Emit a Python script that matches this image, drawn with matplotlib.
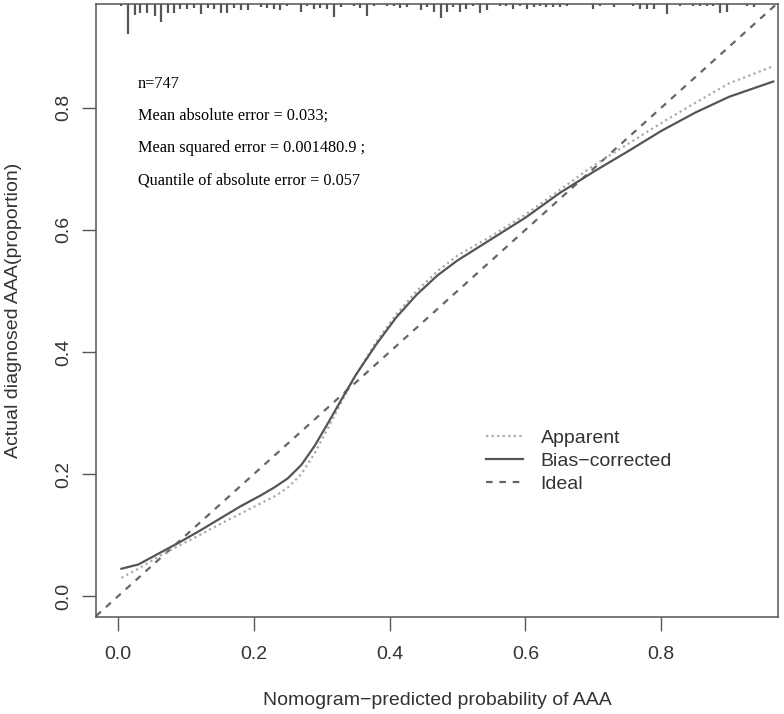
import matplotlib.pyplot as plt
import numpy as np

# Данные
pred_x = [0.005, 0.03, 0.06, 0.09, 0.12, 0.15, 0.18, 0.21, 0.23, 0.25, 0.27, 0.29, 0.31, 0.33, 0.35,
          0.38, 0.41, 0.44, 0.47, 0.50, 0.55, 0.60, 0.65, 0.70, 0.75, 0.80, 0.85, 0.90, 0.965]
bias_corrected = [0.045, 0.052, 0.070, 0.088, 0.107, 0.127, 0.147, 0.165, 0.178, 0.193, 0.215, 0.247, 0.285,
                  0.324, 0.362, 0.412, 0.457, 0.494, 0.525, 0.550, 0.585, 0.620, 0.660, 0.695, 0.728, 0.762,
                  0.792, 0.818, 0.843]
apparent = [0.030, 0.045, 0.065, 0.083, 0.100, 0.118, 0.135, 0.152, 0.163, 0.178, 0.200, 0.235, 0.277,
            0.320, 0.362, 0.416, 0.462, 0.500, 0.532, 0.558, 0.590, 0.625, 0.665, 0.705, 0.740, 0.775,
            0.808, 0.840, 0.868]

# распределение предсказанных вероятностей (верхний "ковёр")
rug_x = [0.005, 0.015, 0.025, 0.033, 0.043, 0.054, 0.063, 0.073, 0.083, 0.092, 0.102, 0.112, 0.122, 0.132,
         0.141, 0.151, 0.161, 0.171, 0.181, 0.191, 0.210, 0.220, 0.230, 0.239, 0.249, 0.269, 0.279, 0.288,
         0.298, 0.308, 0.318, 0.328, 0.347, 0.357, 0.367, 0.377, 0.396, 0.406, 0.416, 0.426, 0.446, 0.455,
         0.465, 0.475, 0.485, 0.494, 0.504, 0.513, 0.523, 0.533, 0.543, 0.563, 0.572, 0.582, 0.592, 0.602,
         0.612, 0.622, 0.631, 0.641, 0.651, 0.661, 0.700, 0.710, 0.730, 0.759, 0.769, 0.779, 0.789, 0.808,
         0.828, 0.847, 0.857, 0.867, 0.877, 0.887, 0.897, 0.926, 0.936]
rug_freq = [2, 30, 11, 9, 9, 12, 18, 9, 9, 5, 5, 4, 10, 4,
            5, 9, 9, 4, 6, 6, 3, 4, 5, 6, 2, 8, 2, 5,
            4, 5, 13, 3, 2, 4, 12, 2, 2, 2, 4, 3, 6, 3,
            8, 14, 8, 3, 8, 5, 2, 9, 6, 2, 2, 5, 2, 5,
            3, 2, 3, 3, 3, 2, 5, 2, 3, 2, 5, 5, 5, 10,
            2, 2, 2, 2, 2, 9, 8, 2, 3]

stats_lines = ['n=747', 'Mean absolute error = 0.033;', 'Mean squared error = 0.001480.9 ;',
               'Quantile of absolute error = 0.057']
ticks = [0.0, 0.2, 0.4, 0.6, 0.8]

xlim = (-0.0325, 0.972)
ylim = (-0.034, 0.970)
sans = 'Liberation Sans'

fig = plt.figure(figsize=(7.84, 7.14), dpi=100)
ax = fig.add_axes([0.1224, 0.1359, 0.8699, 0.8585])
ax.set_xlim(xlim)
ax.set_ylim(ylim)

# Линии
ax.plot([xlim[0], xlim[1]], [xlim[0], xlim[1]], color='#666666', lw=1.6,
        linestyle=(0, (3, 3)), label='Ideal', zorder=1)
ax.plot(pred_x, apparent, color='#aaaaaa', lw=1.6, linestyle=(0, (1, 1.5)), label='Apparent', zorder=2)
ax.plot(pred_x, bias_corrected, color='#555555', lw=1.6, label='Bias-corrected', zorder=3)

# ковёр сверху
rug_len = np.array(rug_freq) / 610.0
ax.vlines(rug_x, ylim[1] - rug_len, ylim[1], color='#555555', lw=1.6)

# Текст
for i, s in enumerate(stats_lines):
    ax.text(0.0295, 0.833 - i * 0.053, s, fontsize=11.7, family='Liberation Serif', va='baseline')

h = {l.get_label(): l for l in ax.get_lines()}
leg = ax.legend([h['Apparent'], h['Bias-corrected'], h['Ideal']], ['Apparent', 'Bias−corrected', 'Ideal'],
                loc='upper left', bbox_to_anchor=(0.558, 0.322), frameon=False, borderpad=0,
                prop={'family': sans, 'size': 14}, handlelength=1.9,
                labelspacing=0.27, handletextpad=0.9)
for t in leg.get_texts():
    t.set_color('#333333')

# Оси
ax.set_xticks(ticks)
ax.set_yticks(ticks)
ax.set_xticklabels([f'{t:.1f}' for t in ticks], family=sans, fontsize=14, color='#333333')
ax.set_yticklabels([f'{t:.1f}' for t in ticks], family=sans, fontsize=14,
                   color='#333333', rotation=90, va='center')
ax.tick_params(axis='both', length=10, width=1, color='#555555')
ax.tick_params(axis='x', pad=11)
ax.tick_params(axis='y', pad=7)
for sp in ax.spines.values():
    sp.set_color('#555555')
    sp.set_linewidth(1.1)

ax.set_xlabel('Nomogram−predicted probability of AAA', family=sans, fontsize=14,
              color='#333333', labelpad=21)
ax.set_ylabel('Actual diagnosed AAA(proportion)', family=sans, fontsize=14,
              color='#333333', labelpad=24)

plt.savefig('out.png', dpi=100)
